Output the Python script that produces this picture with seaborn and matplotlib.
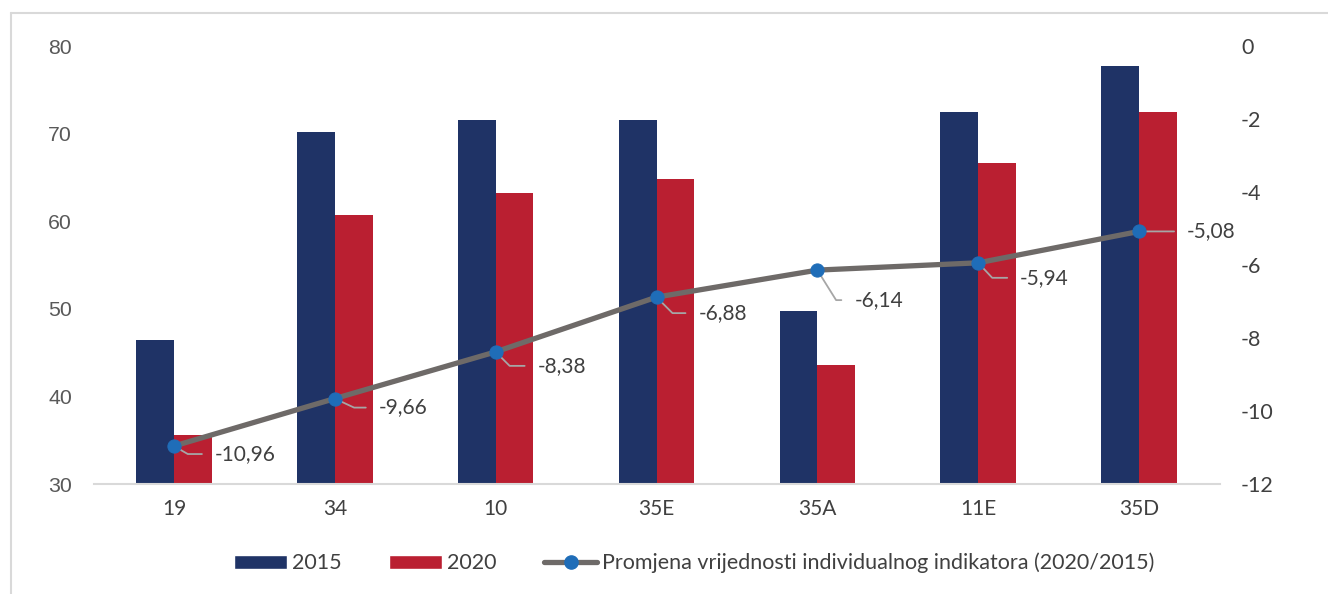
import matplotlib
matplotlib.use("Agg")
import matplotlib.pyplot as plt
import seaborn as sns
import pandas as pd
from matplotlib.lines import Line2D
from matplotlib.patches import Patch

categories = ["19", "34", "10", "35E", "35A", "11E", "35D"]
values_2015 = [46.4, 70.2, 71.6, 71.6, 49.7, 72.5, 77.7]
values_2020 = [35.6, 60.7, 63.2, 64.8, 43.6, 66.6, 72.5]
change = [-10.96, -9.66, -8.38, -6.88, -6.14, -5.94, -5.08]
change_labels = ["-10,96", "-9,66", "-8,38", "-6,88", "-6,14", "-5,94", "-5,08"]
line_name = "Promjena vrijednosti individualnog indikatora (2020/2015)"

sns.set_theme(style="white")
plt.rcParams["font.family"] = ["Lato", "DejaVu Sans"]

C15 = "#1F3366"
C20 = "#BA1F31"
CLINE = "#6E6A68"
CMARK = "#1F6DB8"
TXT = "#404040"
PX = 0.72  # points per pixel at dpi 100

df = pd.DataFrame({
    "cat": categories * 2,
    "year": ["2015"] * len(categories) + ["2020"] * len(categories),
    "val": values_2015 + values_2020,
})

fig = plt.figure(figsize=(13.28, 5.94), dpi=100)
ax = fig.add_axes([93.5 / 1328, 1 - 484 / 594, (1219.5 - 93.5) / 1328, (484 - 46) / 594])

sns.barplot(data=df, x="cat", y="val", hue="year", palette=[C15, C20],
            width=0.47, ax=ax, legend=False, saturation=1, edgecolor="none")
ax.set_ylim(30, 80)
ax.set_xlim(-0.5, len(categories) - 0.5)
ax.set_yticks([30, 40, 50, 60, 70, 80])
ax.set_xlabel("")
ax.set_ylabel("")
for s in ["top", "right", "left"]:
    ax.spines[s].set_visible(False)
ax.spines["bottom"].set_color("#D9D9D9")
ax.spines["bottom"].set_linewidth(1.5)
ax.tick_params(axis="both", length=0)
ax.tick_params(axis="y", pad=21.5 * PX, labelsize=15.3, labelcolor="#595959")
ax.tick_params(axis="x", pad=15 * PX, labelsize=15, labelcolor=TXT)
for t in ax.get_yticklabels():
    t.set_fontfamily(["Liberation Sans", "DejaVu Sans"])

ax2 = ax.twinx()
x_pos = list(range(len(categories)))
sns.lineplot(x=x_pos, y=change, ax=ax2, color=CLINE, linewidth=3.8,
             marker="o", markersize=9.5, markerfacecolor=CMARK,
             markeredgecolor=CMARK, zorder=5)
ax2.set_ylim(-12, 0)
ax2.set_xlim(-0.5, len(categories) - 0.5)
ax2.set_yticks([0, -2, -4, -6, -8, -10, -12])
ax2.set_yticklabels(["0", "-2", "-4", "-6", "-8", "-10", "-12"])
for s in ["top", "right", "left", "bottom"]:
    ax2.spines[s].set_visible(False)
ax2.tick_params(axis="y", length=0, pad=21.5 * PX, labelsize=15.5, labelcolor=TXT)

# label offsets in pixels (dx right, dy down) and leader angles
offsets = [(41, 8), (44, 9), (42, 14), (42, 16), (37, 30), (42, 15), (48, 0)]
angles = [-30, -25, -45, -45, -58, -47, None]
for xi, yi, lab, (dx, dy), ang in zip(x_pos, change, change_labels, offsets, angles):
    cs = "arc3,rad=0" if ang is None else f"angle,angleA=0,angleB={ang},rad=0"
    ax2.annotate(lab, xy=(xi, yi), xytext=(dx * PX, -dy * PX), textcoords="offset points",
                 fontsize=15, color=TXT, va="center", ha="left",
                 arrowprops=dict(arrowstyle="-", color="#A6A6A6", lw=1.3,
                                 shrinkA=7, shrinkB=0, relpos=(0, 0.5),
                                 connectionstyle=cs),
                 zorder=4)

handles = [
    Patch(facecolor=C15, label="2015"),
    Patch(facecolor=C20, label="2020"),
    Line2D([0], [0], color=CLINE, lw=3.8, marker="o", markersize=9.5,
           markerfacecolor=CMARK, markeredgecolor=CMARK, label=line_name),
]
leg = fig.legend(handles=handles, loc="center", bbox_to_anchor=(0.523, 1 - 563 / 594),
                 ncol=3, frameon=False, fontsize=15.5, handlelength=2.45,
                 handleheight=0.65, columnspacing=2.2, handletextpad=0.25)
for t in leg.get_texts():
    t.set_color(TXT)

# figure border (top and left)
fig.add_artist(Line2D([11 / 1328, 11 / 1328], [0, 1 - 13 / 594], transform=fig.transFigure,
                      color="#D9D9D9", lw=1.5))
fig.add_artist(Line2D([11 / 1328, 1], [1 - 13 / 594, 1 - 13 / 594], transform=fig.transFigure,
                      color="#D9D9D9", lw=1.5))

fig.savefig("out.png", dpi=100, facecolor="white")
